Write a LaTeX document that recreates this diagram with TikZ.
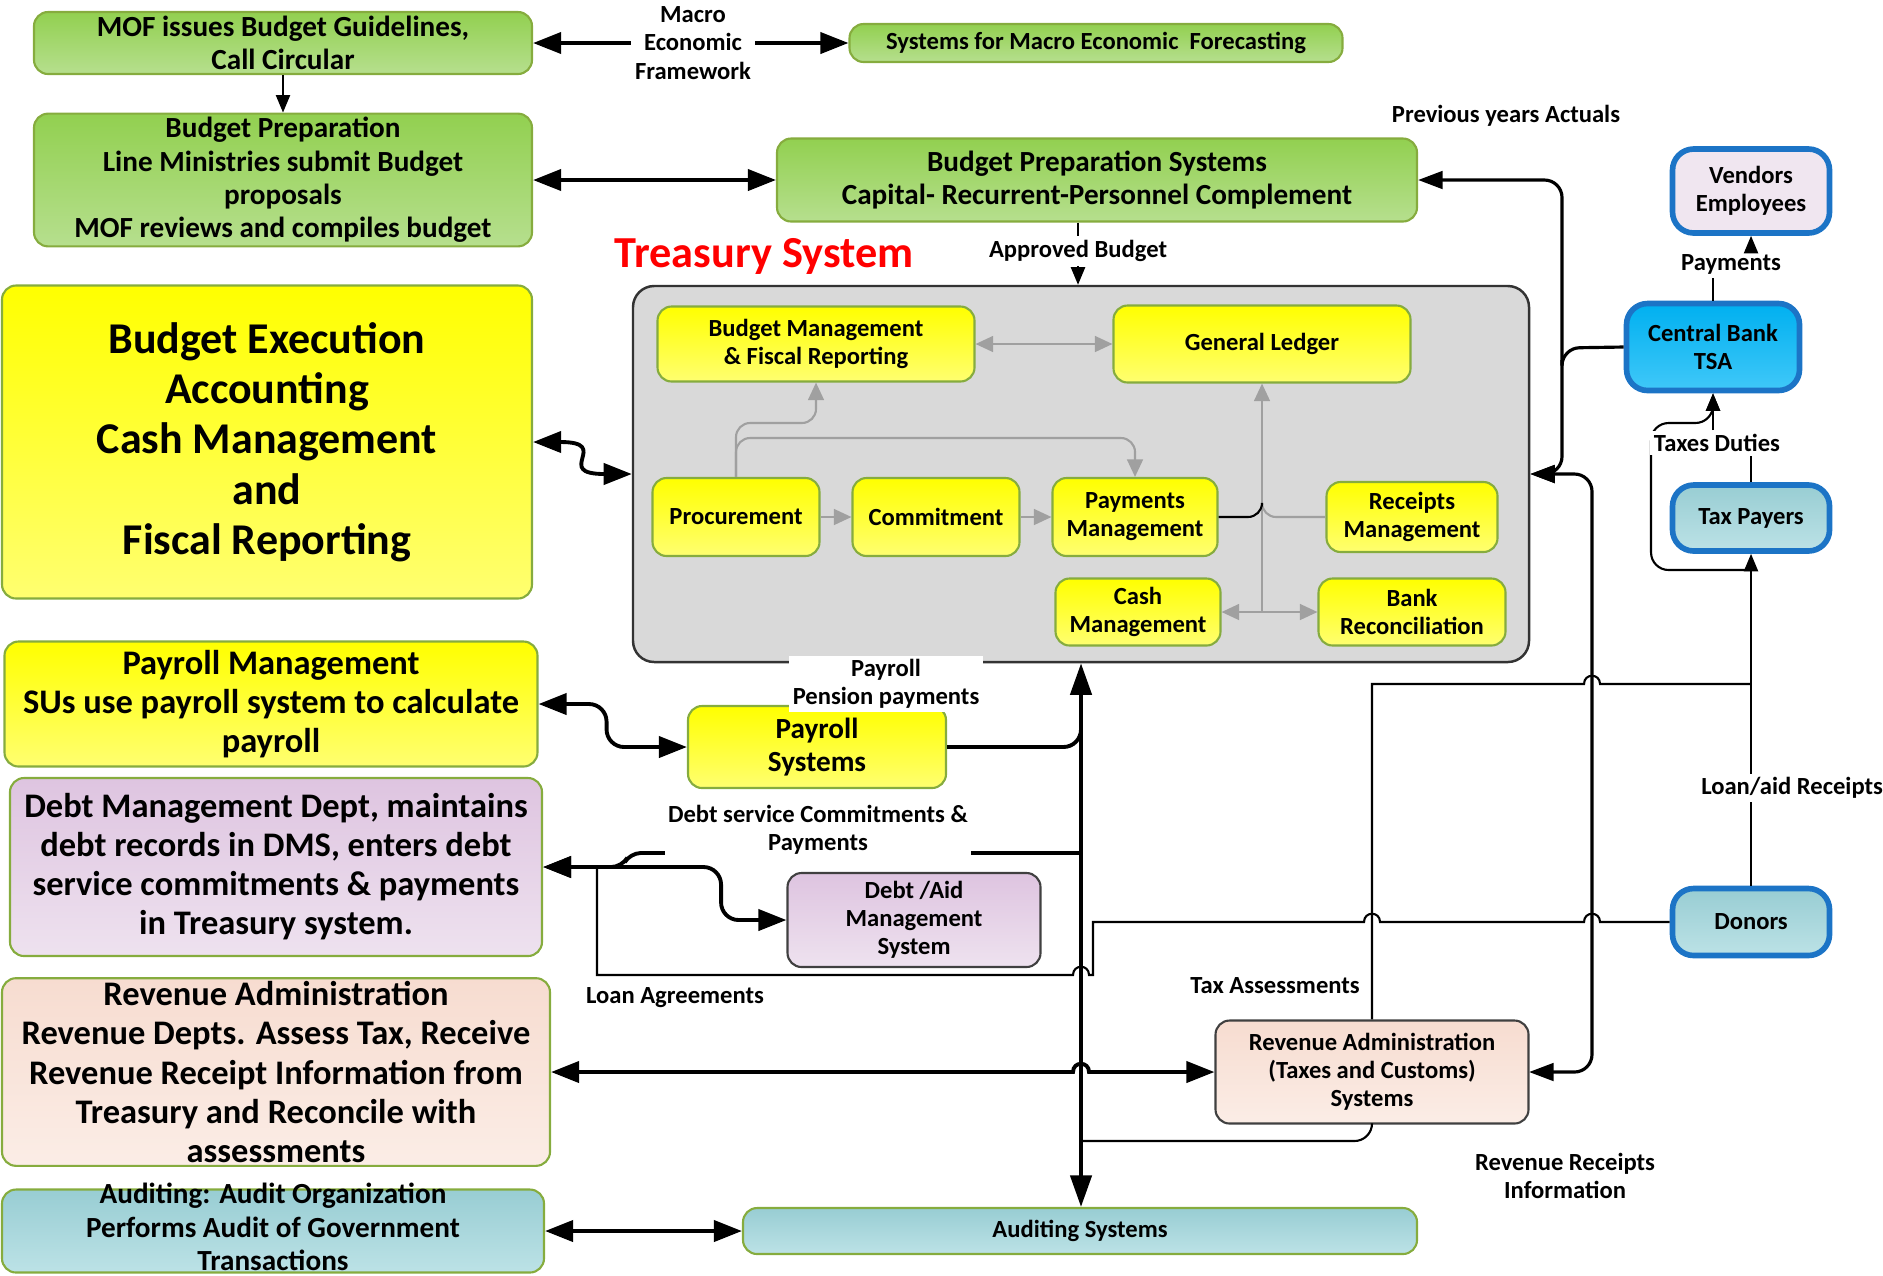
\documentclass[tikz,border=0pt]{standalone}
\usepackage{fontspec}
\setmainfont{Carlito}
\usetikzlibrary{arrows.meta, calc}
\definecolor{tsGreenT}{HTML}{92D050}
\definecolor{tsGreenB}{HTML}{B6DF8E}
\definecolor{tsOlive}{HTML}{86AC3E}
\definecolor{tsYellowB}{HTML}{FFFF70}
\definecolor{tsGrey}{HTML}{D9D9D9}
\definecolor{tsLilacT}{HTML}{DEC4E0}
\definecolor{tsLilacB}{HTML}{EEE2EF}
\definecolor{tsPeachT}{HTML}{F7DCD0}
\definecolor{tsPeachB}{HTML}{FBEDE6}
\definecolor{tsTealT}{HTML}{98CDD3}
\definecolor{tsTealB}{HTML}{BCE2E6}
\definecolor{tsCyanT}{HTML}{00B0F0}
\definecolor{tsCyanB}{HTML}{40C8F8}
\definecolor{tsBlue}{HTML}{1C74C6}
\definecolor{tsVend}{HTML}{F0E6F0}
\definecolor{tsArrGrey}{HTML}{A0A0A0}
\newcommand{\tsjump}[2]{-- ({#1-8},#2) .. controls ({#1-8},{#2-11}) and ({#1+8},{#2-11}) .. ({#1+8},#2)}
\tikzset{
  box/.style       = {draw, rounded corners=4pt, align=center, inner sep=1pt, line width=0.6pt},
  wh/.style 2 args = {minimum width=#1*0.01cm, minimum height=#2*0.01cm},
  greenbox/.style  = {box, draw=tsOlive, top color=tsGreenT, bottom color=tsGreenB},
  yellowbox/.style = {box, draw=tsOlive, top color=yellow, bottom color=tsYellowB},
  lilacbox/.style  = {box, draw=tsOlive, top color=tsLilacT, bottom color=tsLilacB},
  peachbox/.style  = {box, draw=tsOlive, top color=tsPeachT, bottom color=tsPeachB},
  tealbox/.style   = {box, draw=tsOlive, top color=tsTealT, bottom color=tsTealB},
  bluebox/.style   = {box, draw=tsBlue, line width=1.6pt, rounded corners=6pt},
  hugetxt/.style   = {font=\bfseries\fontsize{12.5}{14.3}\selectfont},
  bigtxt/.style    = {font=\bfseries\fontsize{9.8}{11.1}\selectfont},
  medtxt/.style    = {font=\bfseries\fontsize{8.3}{9.5}\selectfont},
  smtxt/.style     = {font=\bfseries\fontsize{7}{8}\selectfont},
  lbl/.style       = {smtxt, align=center, inner sep=1pt},
  wlbl/.style      = {lbl, fill=white},
  thickboth/.style = {line width=1.1pt, {Triangle[length=8pt,width=6pt]}-{Triangle[length=8pt,width=6pt]}},
  thickend/.style  = {line width=1.1pt, -{Triangle[length=8pt,width=6pt]}},
  thickline/.style = {line width=1.1pt},
  midboth/.style   = {line width=0.9pt, {Triangle[length=7pt,width=5pt]}-{Triangle[length=7pt,width=5pt]}},
  thinend/.style   = {line width=0.6pt, -{Triangle[length=5pt,width=4pt]}},
  thinline/.style  = {line width=0.6pt},
  greyend/.style   = {line width=0.6pt, tsArrGrey, -{Triangle[length=5pt,width=4.5pt]}},
  greyboth/.style  = {line width=0.6pt, tsArrGrey, {Triangle[length=5pt,width=4.5pt]}-{Triangle[length=5pt,width=4.5pt]}},
  greyline/.style  = {line width=0.6pt, tsArrGrey},
}

\begin{document}
\begin{tikzpicture}[x=0.01cm, y=-0.01cm]
  \useasboundingbox (0,0) rectangle (1883,1275);

  % budget preparation
  \node[greenbox, medtxt, wh={498}{62}] (mof) at (283,43) {MOF issues Budget Guidelines,\\Call Circular};
  \node[lbl] (macro) at (693,43) {Macro\\Economic\\Framework};
  \node[greenbox, smtxt, wh={493}{38}] (forecast) at (1096,43) {Systems for Macro Economic\ \ Forecasting};
  \node[greenbox, medtxt, wh={498}{127}] (bprep) at (283,180) {Budget Preparation\\Line Ministries submit Budget\\proposals\\MOF reviews and compiles budget};
  \node[greenbox, medtxt, wh={640}{83}] (bpsys) at (1097,180) {Budget Preparation Systems\\Capital- Recurrent-Personnel Complement};
  \draw[thickend] (macro.west) -- (mof.east);
  \draw[thickend] (macro.east) -- (forecast.west);
  \draw[thinend] (mof) -- (bprep);
  \draw[thickboth] (bprep) -- (bpsys);

  % bank side
  \node[lbl] (prevlbl) at (1506,116) {Previous years Actuals};
  \node[bluebox, smtxt, fill=tsVend, wh={157}{84}] (vendors) at (1751,191) {Vendors\\Employees};
  \node[bluebox, smtxt, top color=tsCyanT, bottom color=tsCyanB, wh={173}{87}] (cbank) at (1713,347) {Central Bank\\TSA};
  \node[bluebox, smtxt, top color=tsTealT, bottom color=tsTealB, wh={157}{66}] (taxpay) at (1751,518) {Tax Payers};
  \node[bluebox, smtxt, top color=tsTealT, bottom color=tsTealB, wh={157}{67}] (donors) at (1751,922) {Donors};
  \node[lbl] (paylbl) at (1731,264) {Payments};
  \draw[thinline] (cbank.north) -- (paylbl.south -| cbank.north);
  \draw[thinend] (paylbl.north -| vendors.south) -- (vendors.south);

  % treasury system
  \node[font=\bfseries\fontsize{12.6}{14}\selectfont, red] (tstitle) at (764,256) {Treasury System};
  \node[draw=black!80, fill=tsGrey, rounded corners=6pt, line width=0.7pt, wh={896}{376}] (treasury) at (1081,474) {};
  \node[lbl] (apprlbl) at (1078,251) {Approved Budget};
  \draw[thinline] (bpsys.south -| apprlbl) -- (apprlbl.north);
  \draw[thinend] (apprlbl.south) -- (treasury.north -| apprlbl);

  \node[yellowbox, smtxt, wh={317}{75}] (bmfr) at (816,344) {Budget Management\\\& Fiscal Reporting};
  \node[yellowbox, smtxt, wh={297}{77}] (gl) at (1262,344) {General Ledger};
  \node[yellowbox, smtxt, wh={167}{78}] (proc) at (736,517) {Procurement};
  \node[yellowbox, smtxt, wh={167}{78}] (commit) at (936,517) {Commitment};
  \node[yellowbox, smtxt, wh={165}{78}] (paym) at (1135,517) {Payments\\Management};
  \node[yellowbox, smtxt, wh={171}{70}] (receipts) at (1412,517) {Receipts\\Management};
  \node[yellowbox, smtxt, wh={165}{67}] (cashm) at (1138,612) {Cash\\Management};
  \node[yellowbox, smtxt, wh={187}{67}] (bankrec) at (1412,612) {Bank\\Reconciliation};
  \draw[greyboth] (bmfr) -- (gl);
  \draw[greyend] (proc) -- (commit);
  \draw[greyend] (commit) -- (paym);
  \draw[greyend, rounded corners=4pt] (proc.north) -- (proc.north |- 0,438) -- (paym.north |- 0,438) -- (paym.north);
  \draw[greyend, rounded corners=4pt] (proc.north) -- (proc.north |- 0,423) -- (bmfr.south |- 0,423) -- (bmfr.south);
  \draw[greyboth] (cashm) -- (bankrec);
  \draw[greyend] (gl.south |- cashm.east) -- (gl.south);
  \draw[greyline, rounded corners=4pt] (receipts.west) -- (gl.south |- receipts.west) -- ++(0,-12);
  \draw[thinline, rounded corners=4pt] (paym.east) -- (gl.south |- paym.east) -- ++(0,-12);

  % links from the bank
  \coordinate (cbjoin) at (1562,348);
  \draw[midboth, rounded corners=5pt] (bpsys.east) -| (cbjoin) |- (treasury.east);
  \draw[line width=0.9pt, rounded corners=5pt] (cbank.west) -- (cbjoin) -- ++(0,12);
  \coordinate (rvbus) at (1592,0);
  \draw[midboth, rounded corners=5pt] (treasury.east) -- (rvbus |- treasury.east) -- (rvbus |- 0,1072) -- (1529,1072);

  % execution and payroll
  \node[yellowbox, hugetxt, wh={530}{313}] (budexec) at (267,442) {Budget Execution\\Accounting\\Cash Management\\and\\Fiscal Reporting};
  \draw[thickboth] (budexec.east) .. controls +(80,0) and +(-80,0) .. (treasury.west);
  \node[yellowbox, bigtxt, wh={533}{125}] (payrollm) at (271,704) {Payroll Management\\SUs use payroll system to calculate\\payroll};
  \node[yellowbox, medtxt, wh={258}{82}] (payrollsys) at (817,747) {Payroll\\Systems};
  \draw[thickboth, rounded corners=5pt] (payrollm.east) -- ++(68,0) |- (payrollsys.west);

  % debt
  \node[lilacbox, bigtxt, wh={532}{178}] (debtm) at (276,867) {Debt Management Dept, maintains\\debt records in DMS, enters debt\\service commitments \& payments\\in Treasury system.};
  \node[lilacbox, draw=black!75, smtxt, wh={253}{94}] (debtsys) at (914,920) {Debt /Aid\\Management\\System};
  \draw[thickboth, rounded corners=5pt] (debtm.east) -- ++(178,0) |- (debtsys.west);

  % revenue and audit
  \node[peachbox, bigtxt, wh={548}{187}] (revadm) at (276,1072) {Revenue Administration\\Revenue Depts. Assess Tax, Receive\\Revenue Receipt Information from\\Treasury and Reconcile with\\assessments};
  \node[peachbox, draw=black!75, smtxt, wh={313}{103}] (revsys) at (1372,1072) {Revenue Administration\\(Taxes and Customs)\\Systems};
  \node[tealbox, wh={542}{83}] (auditorg) at (273,1231) {};
  \node[medtxt, align=center, inner sep=0pt] (audittxt) at (273,1227) {Auditing: Audit Organization\\Performs Audit of Government\\Transactions};
  \node[tealbox, smtxt, wh={674}{46}] (auditsys) at (1080,1231) {Auditing Systems};
  \draw[thickboth] (auditorg) -- (auditsys);

  % main trunk
  \draw[line width=1.2pt, {Triangle[length=9pt,width=6pt]}-{Triangle[length=9pt,width=6pt]}] (treasury.south) -- (treasury.south |- auditsys.north);
  \draw[thickline, rounded corners=5pt] (payrollsys.east) -- (payrollsys.east -| treasury.south) -- ++(0,-14);
  \coordinate (dsline) at (1081,853);
  \draw[thickend, rounded corners=3pt] (dsline) -- (630,853) -- (622,867) -- (debtm.east);
  \draw[thickboth] (revadm.east) \tsjump{1081}{1072} -- (revsys.west);
  \draw[thinline, rounded corners=5pt] (revsys.south) -- (revsys.south |- 0,1141) -- (1081,1141);

  % loans, taxes, receipts
  \coordinate (loanstart) at (597,867);
  \draw[thinline] (loanstart) -- (597,975) \tsjump{1081}{975} -- (1093,975) -- (1093,922) \tsjump{1372}{922} \tsjump{1592}{922} -- (donors.west);
  \draw[thinline] (revsys.north) -- (revsys.north |- 0,684) \tsjump{1592}{684} -- (1751,684);
  \draw[thinend] (donors.north) -- (taxpay.south);
  \coordinate (tpbranch) at (1751,570);
  \draw[thinend, rounded corners=5pt] (tpbranch) -- (1651,570) -- (1651,423) -- (1713,423) -- (cbank.south);
  \node[wlbl] (taxlbl) at (1717,443) {Taxes Duties};
  \draw[thinline] (taxpay.north) -- (taxpay.north |- taxlbl.south);
  \draw[thinend] (taxlbl.north -| cbank.south) -- (cbank.south);

  % labels
  \node[wlbl] (payrolllbl) at (886,684) {Payroll\\Pension payments};
  \node[wlbl, minimum width=3cm] (debtlbl) at (818,830) {Debt service Commitments \&\\Payments};
  \node[lbl] (loanlbl) at (675,998) {Loan Agreements};
  \node[lbl] (taxasslbl) at (1275,986) {Tax Assessments};
  \node[lbl] (revrcptlbl) at (1565,1176) {Revenue Receipts\\Information};
  \node[wlbl, anchor=west] (loanaidlbl) at (1697,788) {Loan/aid Receipts};
\end{tikzpicture}
\end{document}
